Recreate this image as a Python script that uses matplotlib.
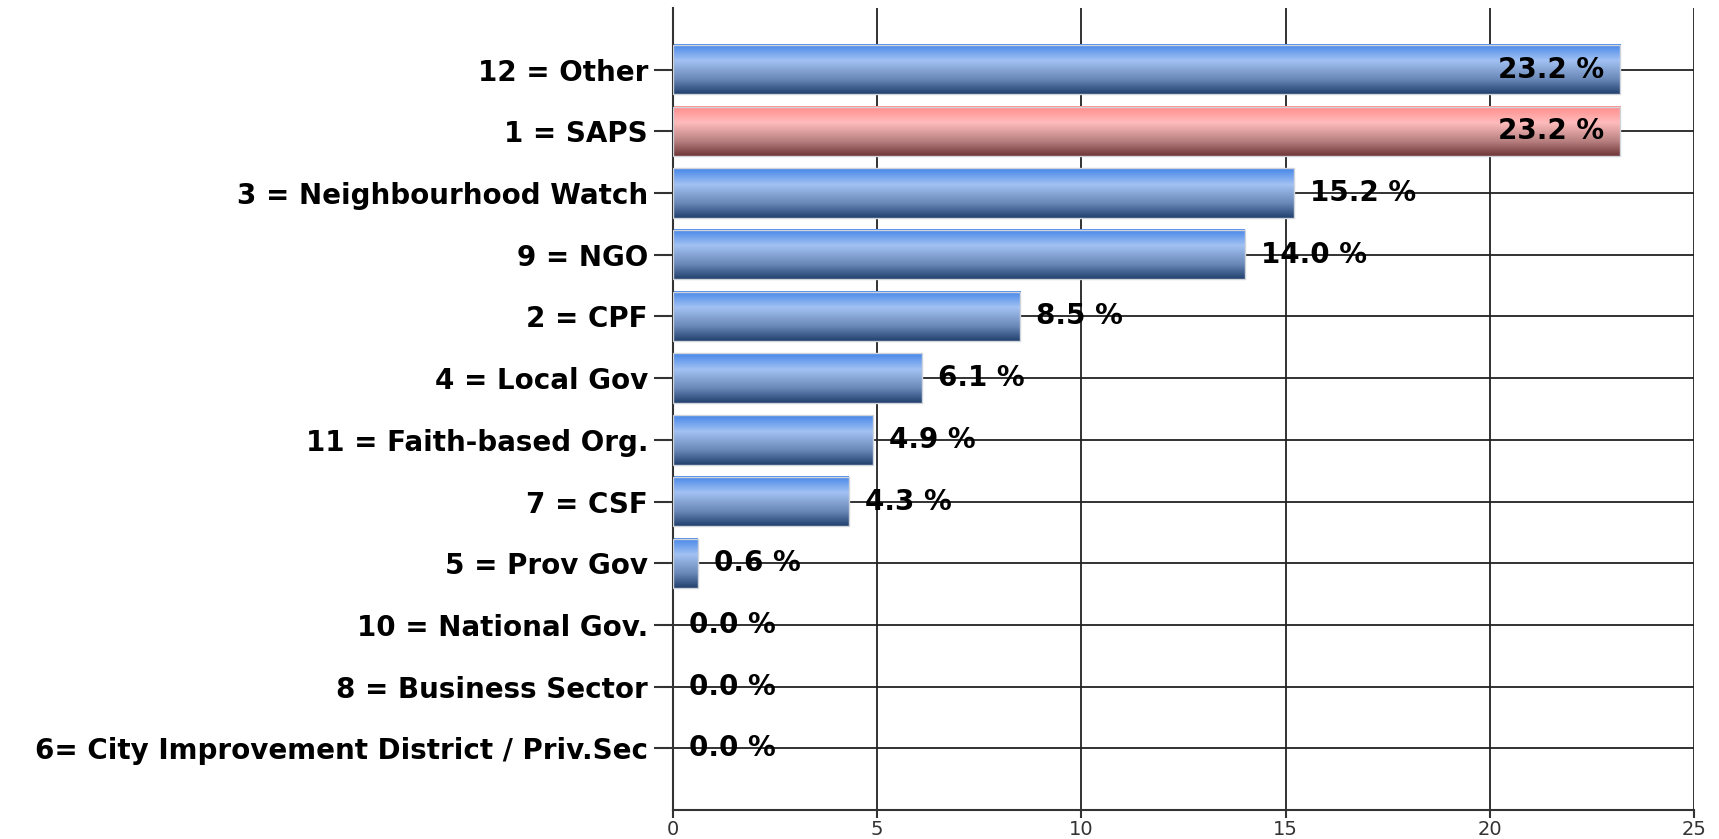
import matplotlib
matplotlib.use("Agg")
import matplotlib.pyplot as plt
import numpy as np
from matplotlib.colors import LinearSegmentedColormap

# data
labels = ["12 = Other", "1 = SAPS", "3 = Neighbourhood Watch", "9 = NGO", "2 = CPF",
          "4 = Local Gov", "11 = Faith-based Org.", "7 = CSF", "5 = Prov Gov",
          "10 = National Gov.", "8 = Business Sector",
          "6= City Improvement District / Priv.Sec"]
values = [23.2, 23.2, 15.2, 14.0, 8.5, 6.1, 4.9, 4.3, 0.6, 0.0, 0.0, 0.0]
highlight = ["1 = SAPS"]

plt.rcParams['font.family'] = ['DejaVu Sans']

blue_cm = LinearSegmentedColormap.from_list(
    "blue_bar", [(0.0, "#4585e8"), (0.33, "#a2c2f3"), (0.7, "#6a88b8"), (1.0, "#22406e")])
red_cm = LinearSegmentedColormap.from_list(
    "red_bar", [(0.0, "#ff8a8a"), (0.33, "#ffbcbc"), (0.7, "#b88080"), (1.0, "#6e3636")])

fig = plt.figure(figsize=(17.19, 8.39), dpi=100)
ax = fig.add_axes([673 / 1719, 1 - 810 / 839, (1694 - 673) / 1719, (810 - 8) / 839])

pos = np.arange(1, len(labels) + 1)
bars = ax.barh(pos, values, height=0.8, color="none", edgecolor="none", zorder=2)

grad = np.linspace(0, 1, 256).reshape(-1, 1)
for bar, lab in zip(bars, labels):
    w = bar.get_width()
    if w <= 0:
        continue
    y0 = bar.get_y()
    h = bar.get_height()
    cm = red_cm if lab in highlight else blue_cm
    ax.imshow(grad, cmap=cm, aspect="auto", origin="upper",
              extent=(0, w, y0 + h, y0), zorder=2, interpolation="bilinear")
    ax.add_patch(plt.Rectangle((0, y0), w, h, fill=False, edgecolor="#d0d4da",
                               lw=1.0, zorder=3))

# value labels
for p, v in zip(pos, values):
    txt = "%.1f %%" % v
    if v > 20:
        ax.text(v - 0.4, p, txt, ha="right", va="center", fontsize=20,
                fontweight="bold", color="black", zorder=5)
    else:
        ax.text(v + 0.4, p, txt, ha="left", va="center", fontsize=20,
                fontweight="bold", color="black", zorder=5)

ax.set_xlim(0, 25)
ax.set_ylim(13, 0)
ax.set_xticks([0, 5, 10, 15, 20, 25])
ax.set_yticks(pos)
ax.set_yticklabels(labels, fontsize=20, fontweight="bold")
ax.tick_params(axis="y", length=14, width=1.5, color="#333333", pad=4)
ax.tick_params(axis="x", length=6, width=1.5, color="#333333", labelsize=14,
               labelcolor="#333333", pad=1)
for t in ax.get_xticklabels():
    t.set_family(['Liberation Sans Narrow', 'DejaVu Sans'])

ax.grid(True, color="#222222", lw=1.3, zorder=0)
ax.set_axisbelow(True)
for s in ["top", "right"]:
    ax.spines[s].set_visible(False)
for s in ["left", "bottom"]:
    ax.spines[s].set_color("#333333")
    ax.spines[s].set_linewidth(1.5)

fig.savefig("out.png", dpi=100)
